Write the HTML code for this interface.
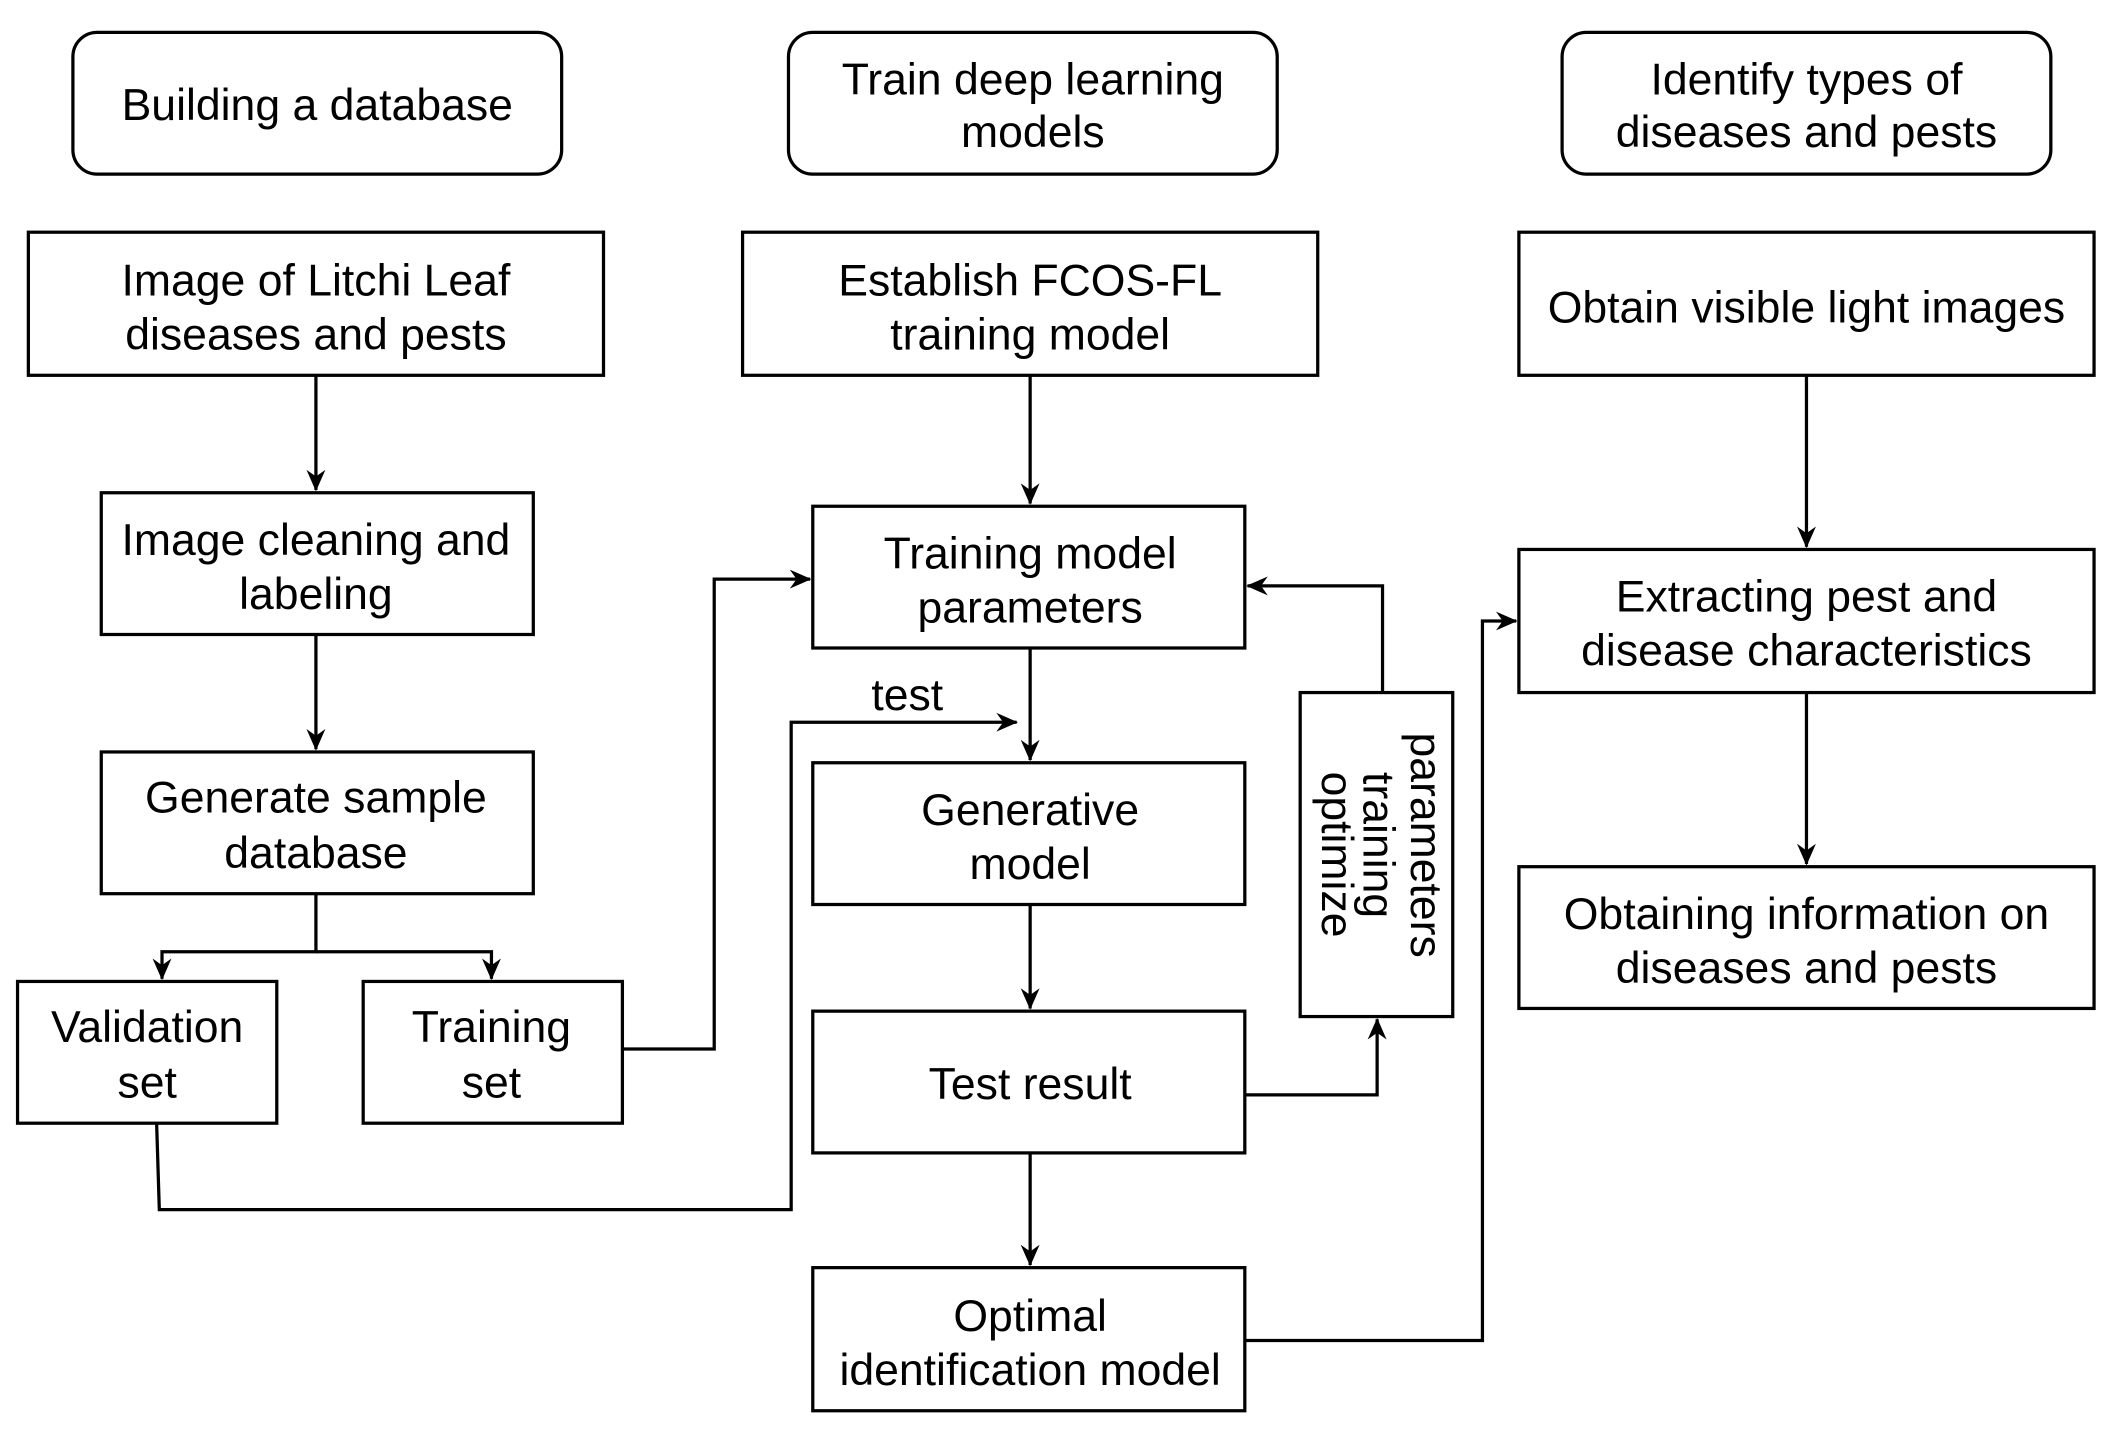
<!DOCTYPE html>
<html><head><meta charset="utf-8">
<style>
html,body{margin:0;padding:0;background:#fff;}
svg{display:block;}
text{font-family:"Liberation Sans",Arial,sans-serif;font-size:33px;fill:#000;text-anchor:middle;}
</style></head>
<body>
<svg width="2117" height="1431" viewBox="0 0 1568 1060" preserveAspectRatio="none" xmlns="http://www.w3.org/2000/svg">
<defs>
<marker id="a" markerWidth="16" markerHeight="16" refX="15" refY="8" orient="auto" markerUnits="userSpaceOnUse">
<path d="M0,1 L16,8 L0,15 L5,8 z" fill="#000"/>
</marker>
</defs>
<g fill="none" stroke="#000" stroke-width="2.4">
<rect x="54" y="24" width="362" height="105" rx="18"/>
<rect x="584" y="24" width="362" height="105" rx="18"/>
<rect x="1157" y="24" width="362" height="105" rx="18"/>
<rect x="21" y="172" width="426" height="106"/>
<rect x="75" y="365" width="320" height="105"/>
<rect x="75" y="557" width="320" height="105"/>
<rect x="13" y="727" width="192" height="105"/>
<rect x="269" y="727" width="192" height="105"/>
<rect x="550" y="172" width="426" height="106"/>
<rect x="602" y="375" width="320" height="105"/>
<rect x="602" y="565" width="320" height="105"/>
<rect x="602" y="749" width="320" height="105"/>
<rect x="602" y="939" width="320" height="106"/>
<rect x="963" y="513" width="113" height="240"/>
<rect x="1125" y="172" width="426" height="106"/>
<rect x="1125" y="407" width="426" height="106"/>
<rect x="1125" y="642" width="426" height="105"/>

<line x1="234" y1="278" x2="234" y2="363" marker-end="url(#a)"/>
<line x1="234" y1="470" x2="234" y2="555" marker-end="url(#a)"/>
<polyline points="234,662 234,705 120,705 120,725" marker-end="url(#a)"/>
<polyline points="234,705 364,705 364,725" marker-end="url(#a)"/>
<polyline points="461,777 529,777 529,429 600,429" marker-end="url(#a)"/>
<polyline points="116,832 118,896 586,896 586,535 753,535" marker-end="url(#a)"/>
<line x1="763" y1="278" x2="763" y2="373" marker-end="url(#a)"/>
<line x1="763" y1="480" x2="763" y2="563" marker-end="url(#a)"/>
<line x1="763" y1="670" x2="763" y2="747" marker-end="url(#a)"/>
<line x1="763" y1="854" x2="763" y2="937" marker-end="url(#a)"/>
<polyline points="922,811 1020,811 1020,755" marker-end="url(#a)"/>
<polyline points="1024,513 1024,434 924,434" marker-end="url(#a)"/>
<polyline points="922,993 1098,993 1098,460 1123,460" marker-end="url(#a)"/>
<line x1="1338" y1="278" x2="1338" y2="405" marker-end="url(#a)"/>
<line x1="1338" y1="513" x2="1338" y2="640" marker-end="url(#a)"/>
</g>

<text x="235" y="89">Building a database</text>
<text x="765" y="70">Train deep learning</text>
<text x="765" y="109">models</text>
<text x="1338" y="70">Identify types of</text>
<text x="1338" y="109">diseases and pests</text>

<text x="234" y="219">Image of Litchi Leaf</text>
<text x="234" y="259">diseases and pests</text>
<text x="234" y="411">Image cleaning and</text>
<text x="234" y="451">labeling</text>
<text x="234" y="602">Generate sample</text>
<text x="234" y="643">database</text>
<text x="109" y="772">Validation</text>
<text x="109" y="813">set</text>
<text x="364" y="772">Training</text>
<text x="364" y="813">set</text>

<text x="763" y="219">Establish FCOS-FL</text>
<text x="763" y="259">training model</text>
<text x="763" y="421">Training model</text>
<text x="763" y="461">parameters</text>
<text x="672" y="526">test</text>
<text x="763" y="611">Generative</text>
<text x="763" y="651">model</text>
<text x="763" y="814">Test result</text>
<text x="763" y="986">Optimal</text>
<text x="763" y="1026">identification model</text>

<text transform="translate(1045,626) rotate(90)">parameters</text>
<text transform="translate(1010,626) rotate(90)">training</text>
<text transform="translate(979,633) rotate(90)">optimize</text>

<text x="1338" y="239">Obtain visible light images</text>
<text x="1338" y="453">Extracting pest and</text>
<text x="1338" y="493">disease characteristics</text>
<text x="1338" y="688">Obtaining information on</text>
<text x="1338" y="728">diseases and pests</text>
</svg>
</body></html>
